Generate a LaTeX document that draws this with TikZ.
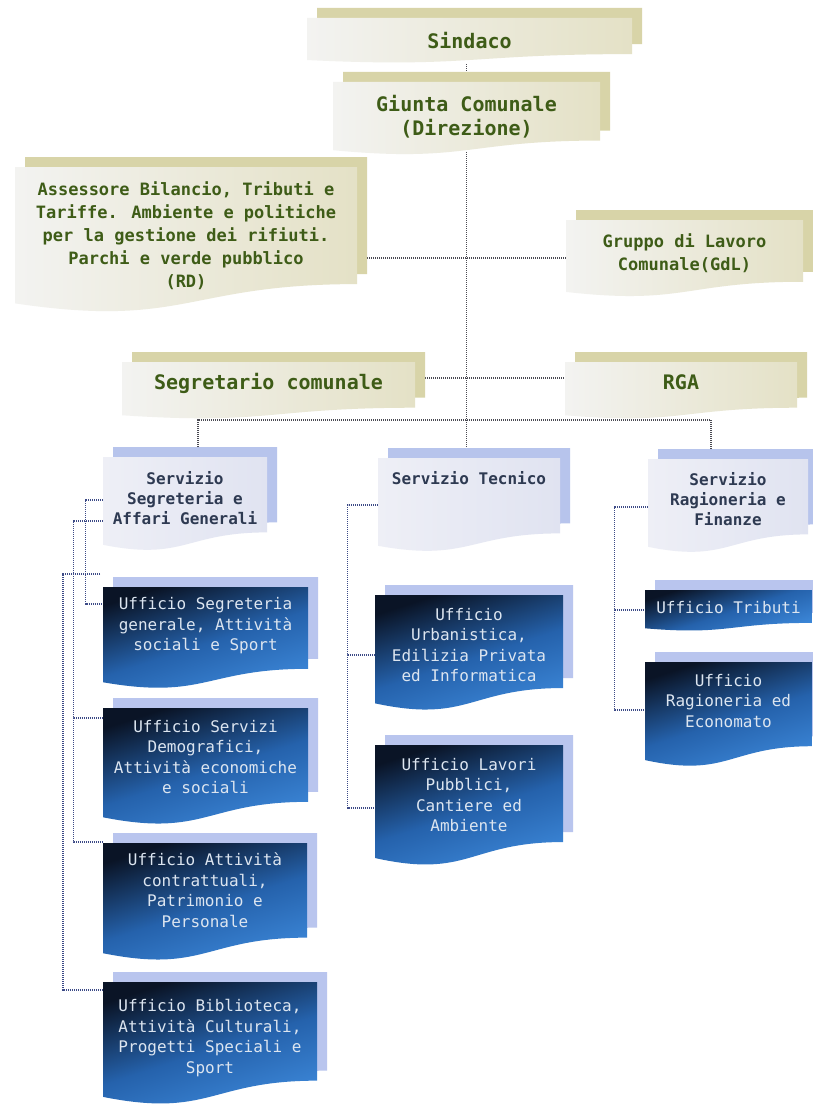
\documentclass[tikz,border=0pt]{standalone}
\usepackage{fontspec}
\newfontfamily\orgfont{DejaVu Sans Mono}
\usetikzlibrary{calc}
\pgfdeclarelayer{bg}
\pgfsetlayers{bg,main}
\definecolor{topshad}{HTML}{D8D4A8}
\definecolor{topl}{HTML}{F3F3F1}
\definecolor{topr}{HTML}{E4E1C6}
\definecolor{topink}{HTML}{3E5C17}
\definecolor{servshad}{HTML}{B7C4EC}
\definecolor{servl}{HTML}{EEEFF6}
\definecolor{servr}{HTML}{E0E3F1}
\definecolor{servink}{HTML}{2E3A52}
\definecolor{offshad}{HTML}{B9C5EE}
\definecolor{offa}{HTML}{0A1426}
\definecolor{offb}{HTML}{2562AC}
\definecolor{offc}{HTML}{3E8ADC}
\definecolor{offink}{HTML}{DCE5F0}
\definecolor{lineA}{HTML}{4A4A52}
\definecolor{lineB}{HTML}{3C4A86}
\tikzset{
  topshadow/.style={fill=topshad},
  topfront/.style={left color=topl, right color=topr},
  toptext/.style={font=\orgfont\bfseries\fontsize{20}{24}\selectfont, text=topink, align=center, inner sep=0pt},
  topsmall/.style={font=\orgfont\bfseries\fontsize{17}{23}\selectfont},
  servshadow/.style={fill=servshad},
  servfront/.style={left color=servl, right color=servr},
  servtext/.style={font=\orgfont\bfseries\fontsize{16}{20}\selectfont, text=servink, align=center, inner sep=0pt},
  offshadow/.style={fill=offshad},
  offfront/.style={top color=offa, bottom color=offc, middle color=offb, shading angle=18},
  offtext/.style={font=\orgfont\fontsize{16}{20.5}\selectfont, text=offink, align=center, inner sep=0pt},
  conn/.style={draw=lineA, line width=1.1pt, dash pattern=on 1.2pt off 0.8pt},
  connb/.style={draw=lineB, line width=1.1pt, dash pattern=on 1.2pt off 0.8pt}
}
\newcommand\dshape[5]{%
  \path[#1] (#2,#3) -- (#4,#3) -- (#4,{#3+0.802*#5})
    .. controls ({(#2+#4)/2},{#3+0.802*#5}) and ({(#2+#4)/2},{#3+1.1075*#5}) .. (#2,{#3+0.934*#5}) -- cycle;}
% name, kind, x1, y1, x2, h, ytext, extra, text
\newcommand\orgbox[9]{%
  \dshape{#2shadow}{#3+10}{#4-10}{#5+10}{#6}
  \dshape{#2front}{#3}{#4}{#5}{#6}
  \pgfmathsetmacro\bw{#5-#3}
  \pgfmathsetmacro\bh{2*(#7-#4)}
  \node[#2text, minimum width=\bw pt, minimum height=\bh pt, #8] (#1) at ({(#3+#5)/2},#7) {#9};
}
\begin{document}
\begin{tikzpicture}[x=1pt, y=-1pt]
\useasboundingbox (0,0) rectangle (812,1105);
\begin{pgfonlayer}{bg}
  \fill[white] (0,0) rectangle (812,1105);
\end{pgfonlayer}

\orgbox{sindaco}{top}{307}{18}{632}{45}{41}{}{Sindaco}
\orgbox{giunta}{top}{333}{82}{600}{73}{117}{}{Giunta Comunale\\(Direzione)}
\orgbox{asse}{top}{15}{167}{357}{146}{236}{topsmall}{Assessore Bilancio, Tributi e\\Tariffe. Ambiente e politiche\\per la gestione dei rifiuti.\\Parchi e verde pubblico\\(RD)}
\orgbox{grup}{top}{566}{220}{803}{77}{253}{topsmall}{Gruppo di Lavoro\\Comunale(GdL)}
\orgbox{segr}{top}{122}{362}{415}{57}{383}{}{Segretario comunale}
\orgbox{rga}{top}{565}{362}{797}{57}{382}{}{RGA}

\orgbox{sseg}{serv}{103}{457}{267}{94}{498}{}{Servizio\\Segreteria e\\Affari Generali}
\orgbox{stec}{serv}{378}{458}{560}{94}{478}{}{Servizio Tecnico}
\orgbox{srag}{serv}{648}{459}{808}{94}{499}{}{Servizio\\Ragioneria e\\Finanze}

\orgbox{u1}{off}{103}{587}{308}{102}{626}{}{Ufficio Segreteria\\generale, Attività\\sociali e Sport}
\orgbox{u2}{off}{103}{708}{308}{117}{757}{}{Ufficio Servizi\\Demografici,\\Attività economiche\\e sociali}
\orgbox{u3}{off}{103}{843}{307}{118}{890}{}{Ufficio Attività\\contrattuali,\\Patrimonio e\\Personale}
\orgbox{u4}{off}{103}{982}{317}{123}{1038}{}{Ufficio Biblioteca,\\Attività Culturali,\\Progetti Speciali e\\Sport}
\orgbox{t1}{off}{375}{595}{563}{116}{645}{}{Ufficio\\Urbanistica,\\Edilizia Privata\\ed Informatica}
\orgbox{t2}{off}{375}{745}{563}{121}{795}{}{Ufficio Lavori\\Pubblici,\\Cantiere ed\\Ambiente}
\orgbox{r1}{off}{645}{590}{812}{41}{608}{}{Ufficio Tributi}
\orgbox{r2}{off}{645}{662}{812}{105}{701}{}{Ufficio\\Ragioneria ed\\Economato}

\begin{pgfonlayer}{bg}
  \coordinate (j1) at (giunta.south |- 0,258);
  \coordinate (j2) at (giunta.south |- 0,378);
  \coordinate (bus) at (giunta.south |- 0,420);
  \coordinate (f1) at (100,574);
  \draw[conn] (giunta.north |- sindaco.south) -- (giunta.north);
  \draw[conn] (giunta.south) -- (giunta.south |- stec.north);
  \draw[conn] (asse.east |- j1) -- (grup.west |- j1);
  \draw[conn] (segr.east |- j2) -- (rga.west |- j2);
  \draw[conn] ([xshift=13pt]sseg.north) -- ([xshift=13pt]sseg.north |- bus)
     -- ([xshift=-17pt]srag.north |- bus) -- ([xshift=-17pt]srag.north);
  % Segreteria
  \draw[connb] (sseg.west |- 0,500) -- ++(-17,0) |- (u1.west |- 0,604);
  \draw[connb] (sseg.west |- 0,521) -- ++(-29,0) |- (u2.west |- 0,718);
  \draw[connb] (sseg.west |- 0,521) -- ++(-29,0) |- (u3.west |- 0,842);
  \draw[connb] (f1) -- ++(-37,0) |- (u4.west |- 0,990);
  % Tecnico
  \draw[connb] (stec.west |- 0,505) -- ++(-30,0) |- (t1.west |- 0,655);
  \draw[connb] (stec.west |- 0,505) -- ++(-30,0) |- (t2.west |- 0,808);
  % Ragioneria
  \draw[connb] (srag.west |- 0,507) -- ++(-33,0) |- (r1.west |- 0,610);
  \draw[connb] (srag.west |- 0,507) -- ++(-33,0) |- (r2.west |- 0,710);
\end{pgfonlayer}
\end{tikzpicture}
\end{document}
